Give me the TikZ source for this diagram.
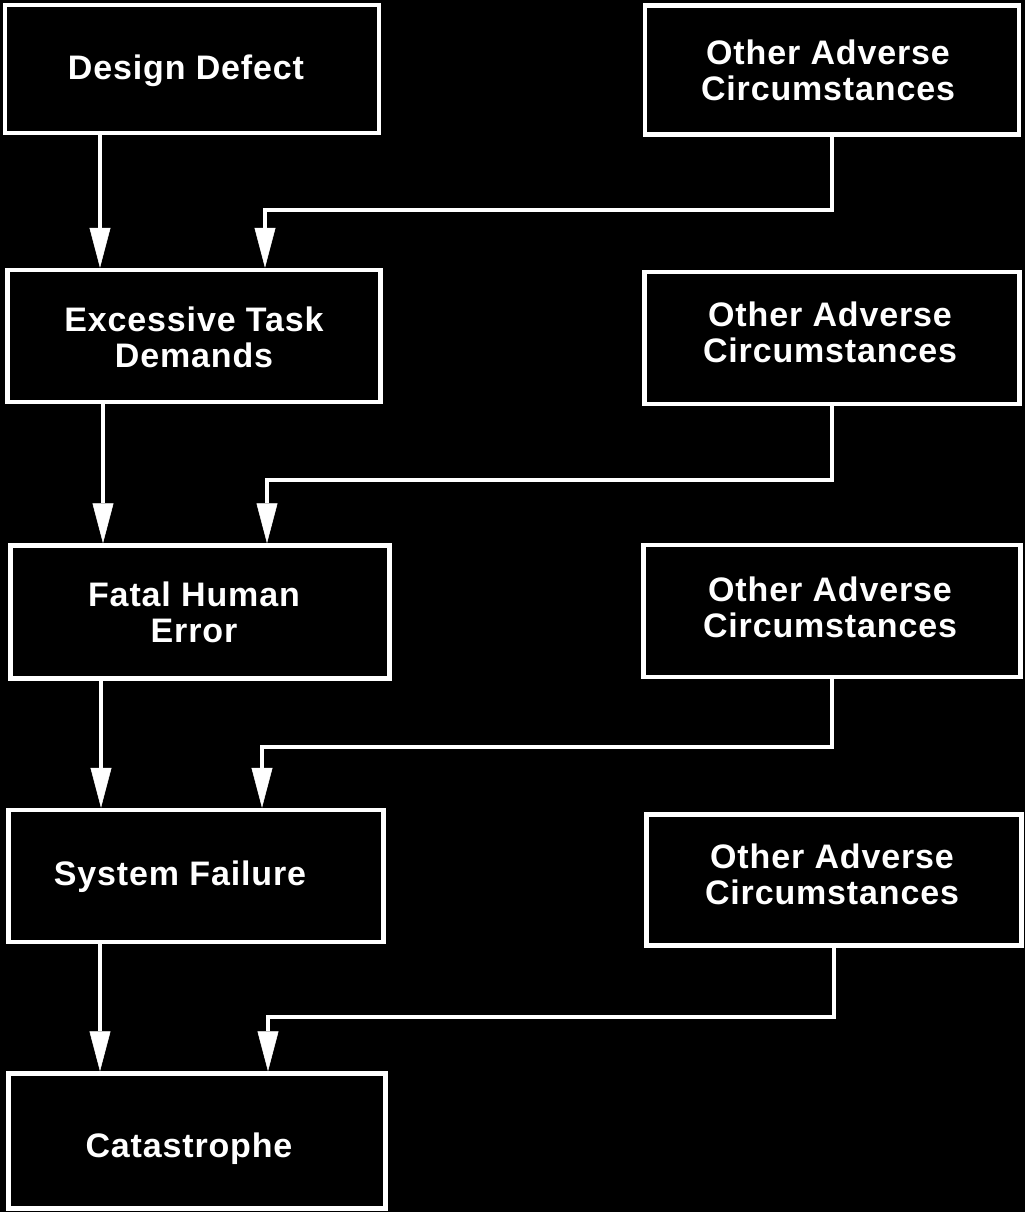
\documentclass[tikz,border=0pt]{standalone}
\usepackage{fontspec}
\setmainfont{Liberation Sans}[LetterSpace=2.5]
\usetikzlibrary{arrows.meta}
\tikzset{
  box/.style={draw=white, line width=4.5pt, fill=black, inner sep=0pt},
  lbl/.style={text=white, inner sep=0pt, align=center,
    font=\bfseries\fontsize{34}{36}\selectfont},
  arr/.style={draw=white, line width=4.5pt,
    -{Triangle[length=40pt,width=21pt,line width=0.5pt,fill=white]}}
}
\begin{document}
\begin{tikzpicture}[x=1pt,y=-1pt]
\fill[black] (0,0) rectangle (1025,1212);
\useasboundingbox (0,0) rectangle (1025,1212);
% left column boxes
\node[box, minimum width=374pt, minimum height=128pt] (L1) at (192,69) {};
\node[box, minimum width=373pt, minimum height=132pt] (L2) at (194,336) {};
\node[box, minimum width=379pt, minimum height=133pt] (L3) at (200,612) {};
\node[box, minimum width=375pt, minimum height=132pt] (L4) at (196,876) {};
\node[box, minimum width=377pt, minimum height=135pt] (L5) at (197,1141) {};
% right column boxes
\node[box, minimum width=374pt, minimum height=129pt] (R1) at (832,70) {};
\node[box, minimum width=375pt, minimum height=132pt] (R2) at (832,338) {};
\node[box, minimum width=377pt, minimum height=132pt] (R3) at (832,611) {};
\node[box, minimum width=375pt, minimum height=131pt] (R4) at (834,880) {};
% labels
\node[lbl] (L1t) at ([shift={(-6,2)}]L1) {Design Defect};
\node[lbl] (L2t) at ([shift={(0,1)}]L2) {Excessive Task\\Demands};
\node[lbl] (L3t) at ([shift={(-6,0)}]L3) {Fatal Human\\Error};
\node[lbl] (L4t) at ([shift={(-16,1)}]L4) {System Failure};
\node[lbl] (L5t) at ([shift={(-8,8)}]L5) {Catastrophe};
\node[lbl] (R1t) at ([shift={(-4,0)}]R1) {Other Adverse\\Circumstances};
\node[lbl] (R2t) at ([shift={(-2,-6)}]R2) {Other Adverse\\Circumstances};
\node[lbl] (R3t) at ([shift={(-2,-4)}]R3) {Other Adverse\\Circumstances};
\node[lbl] (R4t) at ([shift={(-2,-6)}]R4) {Other Adverse\\Circumstances};
% coordinates
\coordinate (a1) at (100,0);
\coordinate (a2) at (103,0);
\coordinate (a3) at (101,0);
\coordinate (a4) at (100,0);
\coordinate (k1) at (265,210);
\coordinate (k2) at (267,480);
\coordinate (k3) at (262,747);
\coordinate (k4) at (268,1017);
% left arrows
\draw[arr] (L1.south -| a1) -- (L2.north -| a1);
\draw[arr] (L2.south -| a2) -- (L3.north -| a2);
\draw[arr] (L3.south -| a3) -- (L4.north -| a3);
\draw[arr] (L4.south -| a4) -- (L5.north -| a4);
% right connectors
\draw[arr] (R1.south) |- (k1) -- (k1 |- L2.north);
\draw[arr] (R2.south) |- (k2) -- (k2 |- L3.north);
\draw[arr] (R3.south) |- (k3) -- (k3 |- L4.north);
\draw[arr] (R4.south) |- (k4) -- (k4 |- L5.north);
\end{tikzpicture}
\end{document}
